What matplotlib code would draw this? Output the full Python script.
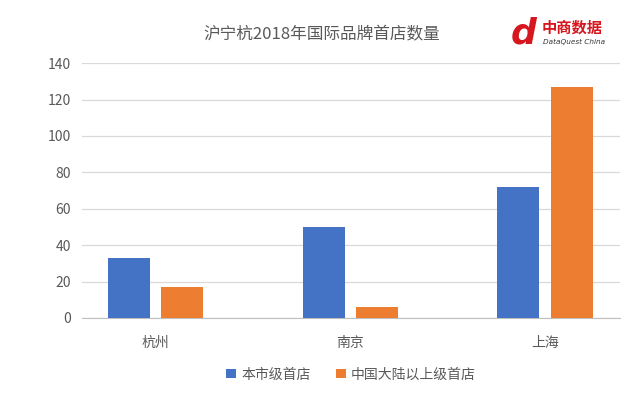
import matplotlib.pyplot as plt
import numpy as np

plt.rcParams['font.family'] = ['Noto Sans CJK SC', 'DejaVu Sans']

# data
cities = ['杭州', '南京', '上海']
local_first = [33, 50, 72]
mainland_first = [17, 6, 127]
series_names = ['本市级首店', '中国大陆以上级首店']
title = '沪宁杭2018年国际品牌首店数量'

blue = '#4472C4'
orange = '#ED7D31'
text_grey = '#595959'

fig = plt.figure(figsize=(6.4, 3.95), dpi=100)
ax = fig.add_axes([0.128, 0.195, 0.841, 0.645])

x = np.arange(len(cities))
w = 0.215
gap = 0.06
ax.bar(x - (w + gap) / 2, local_first, w, color=blue, label=series_names[0], zorder=3)
ax.bar(x + (w + gap) / 2, mainland_first, w, color=orange, label=series_names[1], zorder=3)

ax.set_ylim(0, 140)
ax.set_yticks(range(0, 141, 20))
ax.set_xlim(-0.378, 2.385)
ax.set_xticks(x)
ax.set_xticklabels(cities, fontsize=10, color=text_grey)
ax.tick_params(axis='y', labelsize=10, labelcolor=text_grey, length=0, pad=8)
ax.tick_params(axis='x', length=0, pad=13)
ax.grid(axis='y', color='#d9d9d9', linewidth=0.9, zorder=0)
for s in ['top', 'right', 'left']:
  ax.spines[s].set_visible(False)
ax.spines['bottom'].set_color('#bfbfbf')

fig.text(0.503, 0.912, title, ha='center', va='center', fontsize=12, color=text_grey)

# logo
fig.text(0.818, 0.915, 'd', ha='center', va='center', fontsize=26, color='#d7171f',
         fontweight='bold', style='italic', family='DejaVu Sans')
fig.text(0.847, 0.930, '中商数据', ha='left', va='center', fontsize=11, color='#d7171f',
         fontweight='bold', style='italic')
fig.text(0.848, 0.893, 'DataQuest China', ha='left', va='center', fontsize=5.2,
         color='#333333', style='italic', family='DejaVu Sans')

leg = ax.legend(loc='upper center', bbox_to_anchor=(0.5, -0.145), ncol=2, frameon=False,
                fontsize=10, handlelength=0.7, handleheight=0.7, handletextpad=0.4,
                columnspacing=1.8)
for t in leg.get_texts():
  t.set_color(text_grey)

fig.savefig('out.png', dpi=100)
